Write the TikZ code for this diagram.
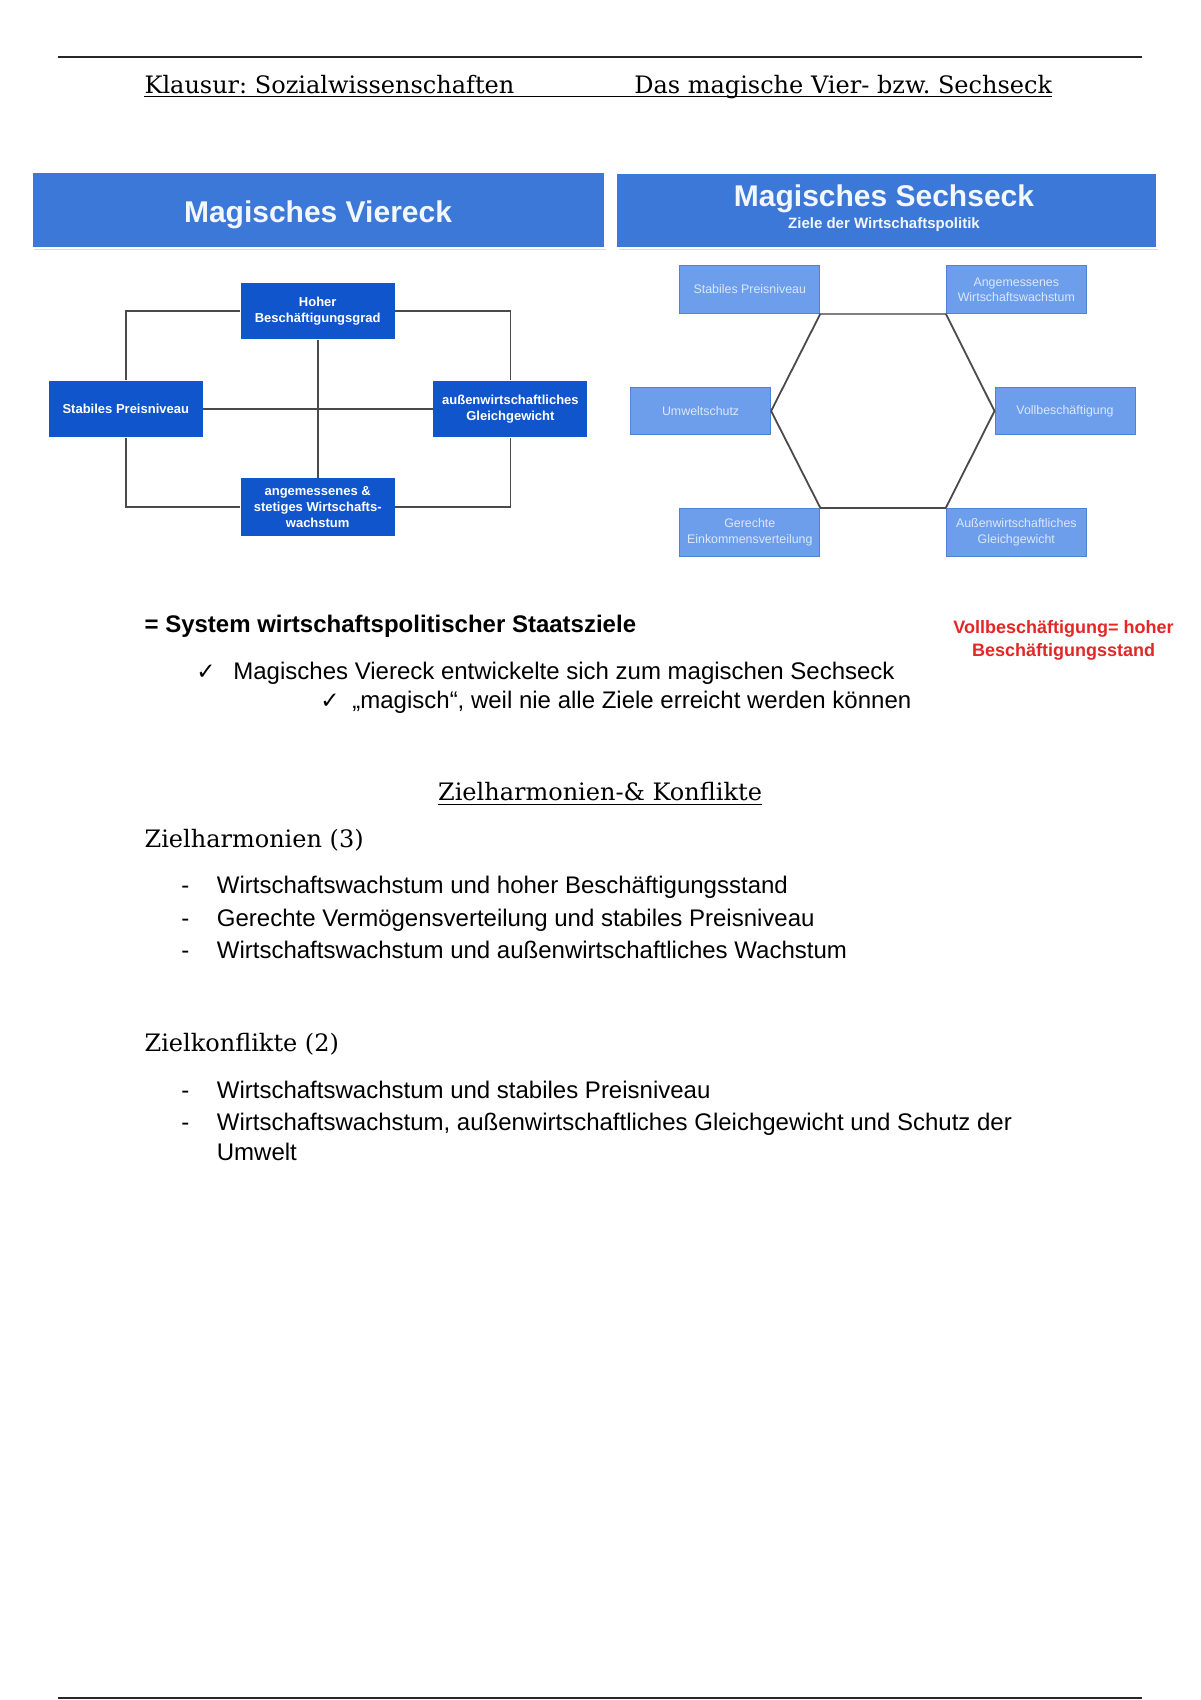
\documentclass[tikz,border=0pt]{standalone}
\usepackage{fontspec}
\setmainfont{Liberation Sans}
\newfontfamily\seriffont{DejaVu Serif}
\newfontfamily\symfont{DejaVu Sans}
\frenchspacing
\definecolor{barblue}{HTML}{3C78D8}
\definecolor{darkblue}{HTML}{1155CC}
\definecolor{lightblue}{HTML}{6D9EEB}
\definecolor{lbborder}{HTML}{4F82D4}
\definecolor{lbtext}{HTML}{DCE7FA}
\definecolor{linegray}{HTML}{4A4A4A}
\definecolor{redtext}{HTML}{E32626}
\definecolor{titlewhite}{HTML}{F2F6FD}
\tikzset{
  bar/.style={fill=barblue, draw=none, inner sep=0pt},
  bartitle/.style={text=titlewhite, font=\fontsize{15}{18}\selectfont\bfseries, inner sep=0pt},
  barsub/.style={text=titlewhite, font=\fontsize{7.5}{9}\selectfont\bfseries, inner sep=0pt},
  vbox/.style={fill=darkblue, draw=none, text=white, align=center,
    font=\fontsize{6.5}{8.1}\selectfont\bfseries,
    minimum width=77pt, minimum height=28.2pt, inner sep=0pt},
  hbox/.style={fill=lightblue, draw=lbborder, line width=0.5pt, text=lbtext, align=center,
    font=\fontsize{6.2}{7.6}\selectfont,
    minimum width=70pt, minimum height=23.85pt, inner sep=0pt},
  conn/.style={draw=linegray, line width=0.9pt},
  hconn/.style={draw=linegray, line width=0.9pt},
  body/.style={anchor=base west, inner sep=0pt, font=\fontsize{12}{14}\selectfont},
  bodyb/.style={anchor=base west, inner sep=0pt, font=\fontsize{12}{14}\selectfont\bfseries},
  serifl/.style={anchor=base west, inner sep=0pt, font=\seriffont\fontsize{12}{14}\selectfont},
  checkm/.style={anchor=base west, inner sep=0pt, font=\symfont\fontsize{11.5}{13}\selectfont},
  redlab/.style={text=redtext, align=center, inner sep=0pt, font=\fontsize{9}{11.4}\selectfont\bfseries},
  rule/.style={line width=1pt, draw=black!85}
}
\begin{document}
\begin{tikzpicture}[x=0.5pt,y=-0.5pt]
\useasboundingbox (0,0) rectangle (1200,1700);
\fill[white] (0,0) rectangle (1200,1700);

% header
\coordinate (tl) at (57.5,57.3);
\coordinate (tr) at (1141.7,57.3);
\draw[rule] (tl) -- (tr);
\node[serifl] (hdrL) at (144.2,93.3) {Klausur: Sozialwissenschaften};
\node[serifl] (hdrR) at (634,93.3) {Das magische Vier- bzw. Sechseck};
\draw[line width=0.5pt] ([yshift=-1.8pt]hdrL.base west) -- ([yshift=-1.8pt]hdrR.base east);

% title bars
\fill[black!14] (34,249) rectangle (605.5,250);
\fill[black!14] (618.5,248.7) rectangle (1157.5,249.7);
\node[bar, minimum width=285.75pt, minimum height=36.75pt] (bar1) at (318.25,210.25) {};
\node[bartitle] (t1) at (318,214.5) {Magisches Viereck};
\node[bar, minimum width=269.5pt, minimum height=36.2pt] (bar2) at (886.5,210.5) {};
\node[bartitle] (t2) at (884,199) {Magisches Sechseck};
\node[barsub] (t2s) at (884,224.5) {Ziele der Wirtschaftspolitik};

% magisches Viereck
\node[vbox] (hoch) at (317.7,311.3) {Hoher\\Besch\"aftigungsgrad};
\node[vbox] (stab) at (125.8,409) {Stabiles Preisniveau};
\node[vbox] (aussen) at (510.4,409) {au\ss enwirtschaftliches\\Gleichgewicht};
\node[vbox, minimum height=28.75pt] (wachs) at (317.7,507) {angemessenes \&\\stetiges Wirtschafts-\\wachstum};
\draw[conn] (hoch.west) -| (stab.north);
\draw[conn] (hoch.east) -| (aussen.north);
\draw[conn] (wachs.west) -| (stab.south);
\draw[conn] (wachs.east) -| (aussen.south);
\draw[conn] (hoch.south) -- (wachs.north);
\draw[conn] (stab.east) -- (aussen.west);

% magisches Sechseck
\node[hbox] (s1) at (749.8,289.5) {Stabiles Preisniveau};
\node[hbox] (s2) at (1016.3,289.5) {Angemessenes\\Wirtschaftswachstum};
\node[hbox] (s3) at (700.6,411) {Umweltschutz};
\node[hbox] (s4) at (1065,411) {Vollbesch\"aftigung};
\node[hbox] (s5) at (749.8,532.2) {Gerechte\\Einkommensverteilung};
\node[hbox] (s6) at (1016.3,532.2) {Au\ss enwirtschaftliches\\Gleichgewicht};
\draw[hconn, draw=black!50, line width=1.3pt] (s1.south east) -- (s2.south west);
\draw[hconn] (s1.south east) -- (s3.east);
\draw[hconn] (s2.south west) -- (s4.west);
\draw[hconn] (s3.east) -- (s5.north east);
\draw[hconn] (s4.west) -- (s6.north west);
\draw[hconn] (s5.north east) -- (s6.north west);

% system text
\node[bodyb] (sys) at (144.2,632) {= System wirtschaftspolitischer Staatsziele};
\node[redlab] (red) at (1063.5,640) {Vollbesch\"aftigung= hoher\\Besch\"aftigungsstand};
\node[checkm] (c1) at (196,679) {✓};
\node[body] (c1t) at (233,679) {Magisches Viereck entwickelte sich zum magischen Sechseck};
\node[checkm] (c2) at (320,708) {✓};
\node[body] (c2t) at (352,708) {„magisch“, weil nie alle Ziele erreicht werden k\"onnen};

% Zielharmonien & Konflikte
\node[serifl, anchor=base] (zk) at (600,800) {Zielharmonien-\& Konflikte};
\draw[line width=0.5pt] ([yshift=-2pt]zk.base west) -- ([yshift=-2pt]zk.base east);
\node[serifl] (zh) at (144.2,847.5) {Zielharmonien (3)};
\node[body] (d1) at (181,893.5) {-};
\node[body] (h1) at (216.5,893.5) {Wirtschaftswachstum und hoher Besch\"aftigungsstand};
\node[body] (d2) at (181,926.5) {-};
\node[body] (h2) at (216.5,926.5) {Gerechte Verm\"ogensverteilung und stabiles Preisniveau};
\node[body] (d3) at (181,958.5) {-};
\node[body] (h3) at (216.5,958.5) {Wirtschaftswachstum und au\ss enwirtschaftliches Wachstum};

\node[serifl] (zkf) at (144.2,1051) {Zielkonflikte (2)};
\node[body] (d4) at (181,1098) {-};
\node[body] (k1) at (216.5,1098) {Wirtschaftswachstum und stabiles Preisniveau};
\node[body] (d5) at (181,1130.5) {-};
\node[body] (k2) at (216.5,1130.5) {Wirtschaftswachstum, au\ss enwirtschaftliches Gleichgewicht und Schutz der};
\node[body] (k2b) at (216.5,1160) {Umwelt};

% bottom rule
\coordinate (bl) at (57.5,1697.5);
\coordinate (br) at (1141.7,1697.5);
\draw[rule] (bl) -- (br);
\end{tikzpicture}
\end{document}
